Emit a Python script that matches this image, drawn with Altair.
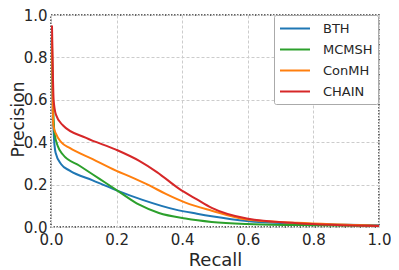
import altair as alt
import pandas as pd

series = ["BTH", "MCMSH", "ConMH", "CHAIN"]
colors = ["#1f77b4", "#2ca02c", "#ff7f0e", "#d62728"]

bth_r = [0.002, 0.005, 0.008, 0.014, 0.031, 0.057, 0.127, 0.198, 0.279, 0.38, 0.445, 0.49, 0.597, 0.75, 0.9, 1.0]
bth_p = [0.89, 0.60, 0.45, 0.35, 0.296, 0.266, 0.22, 0.174, 0.128, 0.082, 0.063, 0.051, 0.028, 0.016, 0.011, 0.008]

mcm_r = [0.003, 0.006, 0.011, 0.021, 0.036, 0.087, 0.148, 0.208, 0.269, 0.329, 0.41, 0.49, 0.597, 0.75, 1.0]
mcm_p = [0.85, 0.60, 0.44, 0.38, 0.342, 0.289, 0.227, 0.166, 0.105, 0.066, 0.04, 0.024, 0.014, 0.009, 0.005]

con_r = [0.003, 0.005, 0.007, 0.015, 0.031, 0.057, 0.127, 0.198, 0.25, 0.30, 0.35, 0.41, 0.49, 0.597, 0.75, 1.0]
con_p = [0.90, 0.60, 0.48, 0.44, 0.40, 0.373, 0.32, 0.266, 0.232, 0.196, 0.156, 0.115, 0.077, 0.035, 0.02, 0.006]

chn_r = [0.003, 0.006, 0.008, 0.015, 0.036, 0.107, 0.198, 0.269, 0.324, 0.39, 0.445, 0.49, 0.597, 0.75, 1.0]
chn_p = [0.95, 0.70, 0.60, 0.53, 0.48, 0.42, 0.365, 0.312, 0.258, 0.181, 0.13, 0.09, 0.04, 0.018, 0.005]

rows = []
for name, rs, ps in [("BTH", bth_r, bth_p), ("MCMSH", mcm_r, mcm_p),
                     ("ConMH", con_r, con_p), ("CHAIN", chn_r, chn_p)]:
    for i, (r, p) in enumerate(zip(rs, ps)):
        rows.append({"series": name, "recall": r, "precision": p, "i": i})
df = pd.DataFrame(rows)

ticks = [0.0, 0.2, 0.4, 0.6, 0.8, 1.0]
font = "DejaVu Sans"

chart = alt.Chart(df).mark_line(strokeWidth=2, interpolate="monotone").encode(
    x=alt.X("recall:Q", title="Recall",
            scale=alt.Scale(domain=[0, 1], nice=False),
            axis=alt.Axis(values=ticks, format=".1f", grid=True, ticks=False, domain=False,
                          labelPadding=5, labelFontSize=15, titleFontSize=18,
                          titleY=38, titleBaseline="alphabetic",
                          labelFlush=False)),
    y=alt.Y("precision:Q", title="Precision",
            scale=alt.Scale(domain=[0, 1], nice=False),
            axis=alt.Axis(values=ticks, format=".1f", grid=True, ticks=False, domain=False,
                          labelPadding=4, labelFontSize=15, titleFontSize=17,
                          titleX=-28, titleY=104, titleAngle=-90,
                          titleBaseline="alphabetic", titleAlign="center",
                          labelFlush=False)),
    color=alt.Color("series:N", scale=alt.Scale(domain=series, range=colors),
                    legend=alt.Legend(title=None, orient="none", legendX=223, legendY=0,
                                      symbolType="M-1,0H3", symbolSize=225, symbolStrokeWidth=2,
                                      labelFontSize=13, labelOffset=27, rowPadding=5,
                                      padding=5, strokeColor="#aaaaaa", fillColor="white",
                                      cornerRadius=2, labelColor="#262626")),
    order="i:Q",
).properties(
    width=328, height=212,
    autosize=alt.AutoSizeParams(type="none"),
    padding={"left": 43, "top": 7, "right": 12, "bottom": 43},
).configure(font=font).configure_axis(
    gridColor="#cccccc", gridDash=[3, 2], gridWidth=1,
    labelColor="#262626", titleColor="#262626", titleFontWeight="normal",
    labelFont=font, titleFont=font,
).configure_view(
    stroke="#333333", strokeDash=[1.5, 1.5], strokeWidth=1.5,
).configure_legend(labelFont=font)

chart.save("out.html", embed_options={"renderer": "svg", "actions": False})
